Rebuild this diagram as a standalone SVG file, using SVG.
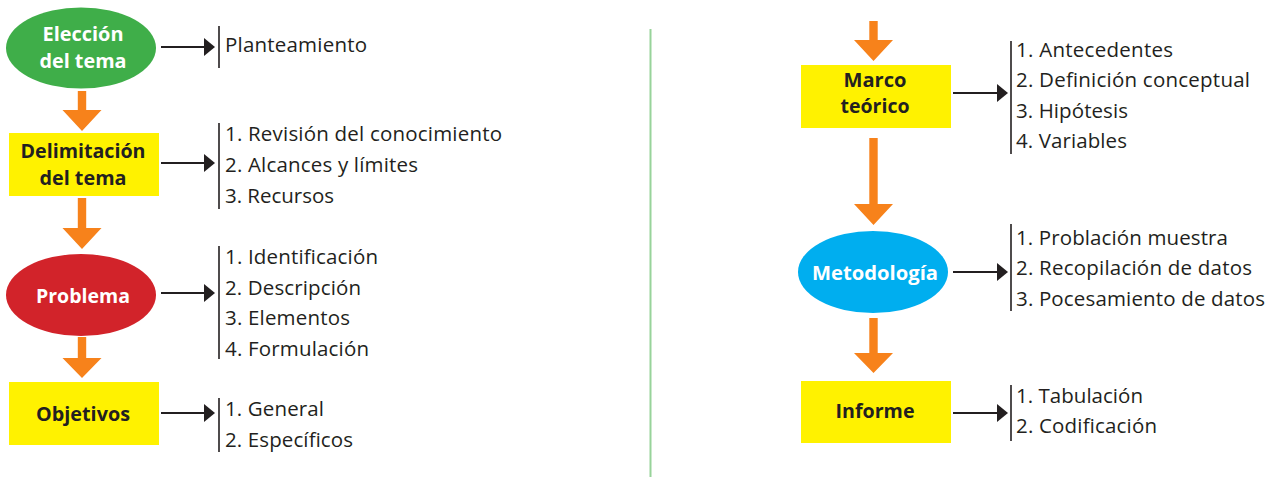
<svg xmlns="http://www.w3.org/2000/svg" width="1277" height="477" viewBox="0 0 1277 477">
<defs>
<style>
.lbl{font-family:"Open Sans","Liberation Sans",sans-serif;font-weight:bold;font-size:20px;text-anchor:middle}
.w{fill:#ffffff}
.d{fill:#231f20}
.it{font-family:"Open Sans","Liberation Sans",sans-serif;font-size:20.5px;fill:#231f20}
.conn{stroke:#231f20;stroke-width:2;fill:none}
.bar{stroke:#231f20;stroke-width:1.6;fill:none}
.ah{fill:#231f20}
.oa{fill:#f7821b}
.yel{fill:#fff200}
</style>
</defs>
<rect width="1277" height="477" fill="#ffffff"/>
<line x1="650.5" y1="29" x2="650.5" y2="477" stroke="#98d39a" stroke-width="2"/>

<g id="connectors">
  <polygon class="oa" points="77.8,91 86.2,91 86.2,110 101.5,110 82,131 62.5,110 77.8,110"/>
  <polygon class="oa" points="77.8,198 86.2,198 86.2,228 101.5,228 82,249 62.5,228 77.8,228"/>
  <polygon class="oa" points="77.8,337 86.2,337 86.2,358 101.5,358 82,378 62.5,358 77.8,358"/>
  <polygon class="oa" points="869.3,21 877.7,21 877.7,40 893,40 873.5,61 854,40 869.3,40"/>
  <polygon class="oa" points="869.3,138 877.7,138 877.7,204 893,204 873.5,225 854,204 869.3,204"/>
  <polygon class="oa" points="869.3,318 877.7,318 877.7,353 893,353 873.5,373 854,353 869.3,353"/>
  <line class="conn" x1="161" y1="47" x2="205" y2="47"/><polygon class="ah" points="204,38 215,47 204,56"/>
  <line class="conn" x1="161" y1="163" x2="205" y2="163"/><polygon class="ah" points="204,154 215,163 204,172"/>
  <line class="conn" x1="161" y1="293" x2="205" y2="293"/><polygon class="ah" points="204,284 215,293 204,302"/>
  <line class="conn" x1="161" y1="413" x2="205" y2="413"/><polygon class="ah" points="204,404 215,413 204,422"/>
  <line class="conn" x1="953" y1="93" x2="998" y2="93"/><polygon class="ah" points="997,84 1008,93 997,102"/>
  <line class="conn" x1="953" y1="272" x2="998" y2="272"/><polygon class="ah" points="997,263 1008,272 997,281"/>
  <line class="conn" x1="953" y1="413" x2="998" y2="413"/><polygon class="ah" points="997,404 1008,413 997,422"/>
  <line class="bar" x1="219" y1="26" x2="219" y2="68"/>
  <line class="bar" x1="219" y1="123" x2="219" y2="209"/>
  <line class="bar" x1="219" y1="246" x2="219" y2="359"/>
  <line class="bar" x1="219" y1="398" x2="219" y2="452"/>
  <line class="bar" x1="1011" y1="41" x2="1011" y2="154"/>
  <line class="bar" x1="1011" y1="224" x2="1011" y2="311"/>
  <line class="bar" x1="1011" y1="385" x2="1011" y2="441"/>
</g>

<g id="eleccion">
  <ellipse cx="81" cy="48" rx="75" ry="40.5" fill="#3fae49"/>
  <text class="lbl w" x="83" y="41" textLength="81" lengthAdjust="spacingAndGlyphs">Elección</text>
  <text class="lbl w" x="83" y="68" textLength="87" lengthAdjust="spacingAndGlyphs">del tema</text>
</g>
<g id="eleccion-items">
  <text class="it" x="225" y="52" textLength="142">Planteamiento</text>
</g>

<g id="delimitacion">
  <rect class="yel" x="9" y="133" width="150" height="63"/>
  <text class="lbl d" x="83" y="158" textLength="125" lengthAdjust="spacingAndGlyphs">Delimitación</text>
  <text class="lbl d" x="83" y="185" textLength="87" lengthAdjust="spacingAndGlyphs">del tema</text>
</g>
<g id="delimitacion-items">
  <text class="it" x="225" y="141" textLength="277">1. Revisión del conocimiento</text>
  <text class="it" x="225" y="172" textLength="193">2. Alcances y límites</text>
  <text class="it" x="225" y="203" textLength="109">3. Recursos</text>
</g>

<g id="problema">
  <ellipse cx="81" cy="295" rx="75" ry="41" fill="#d2232a"/>
  <text class="lbl w" x="83" y="303" textLength="94" lengthAdjust="spacingAndGlyphs">Problema</text>
</g>
<g id="problema-items">
  <text class="it" x="225" y="264" textLength="153">1. Identificación</text>
  <text class="it" x="225" y="295" textLength="136">2. Descripción</text>
  <text class="it" x="225" y="325" textLength="125">3. Elementos</text>
  <text class="it" x="225" y="356" textLength="144">4. Formulación</text>
</g>

<g id="objetivos">
  <rect class="yel" x="9" y="382" width="150" height="63"/>
  <text class="lbl d" x="83" y="421" textLength="94" lengthAdjust="spacingAndGlyphs">Objetivos</text>
</g>
<g id="objetivos-items">
  <text class="it" x="225" y="416" textLength="99">1. General</text>
  <text class="it" x="225" y="447" textLength="128">2. Específicos</text>
</g>

<g id="marco">
  <rect class="yel" x="801" y="65" width="150" height="63"/>
  <text class="lbl d" x="875" y="87" textLength="63" lengthAdjust="spacingAndGlyphs">Marco</text>
  <text class="lbl d" x="875" y="113" textLength="69" lengthAdjust="spacingAndGlyphs">teórico</text>
</g>
<g id="marco-items">
  <text class="it" x="1016" y="57" textLength="157">1. Antecedentes</text>
  <text class="it" x="1016" y="87" textLength="234">2. Definición conceptual</text>
  <text class="it" x="1016" y="118" textLength="112">3. Hipótesis</text>
  <text class="it" x="1016" y="148" textLength="111">4. Variables</text>
</g>

<g id="metodologia">
  <ellipse cx="873" cy="272" rx="75" ry="41" fill="#00aeef"/>
  <text class="lbl w" x="875" y="280" textLength="126" lengthAdjust="spacingAndGlyphs">Metodología</text>
</g>
<g id="metodologia-items">
  <text class="it" x="1016" y="245" textLength="212">1. Problación muestra</text>
  <text class="it" x="1016" y="275" textLength="236">2. Recopilación de datos</text>
  <text class="it" x="1016" y="306" textLength="249">3. Pocesamiento de datos</text>
</g>

<g id="informe">
  <rect class="yel" x="801" y="381" width="150" height="62"/>
  <text class="lbl d" x="875" y="418" textLength="79" lengthAdjust="spacingAndGlyphs">Informe</text>
</g>
<g id="informe-items">
  <text class="it" x="1016" y="403" textLength="127">1. Tabulación</text>
  <text class="it" x="1016" y="433" textLength="141">2. Codificación</text>
</g>
</svg>
